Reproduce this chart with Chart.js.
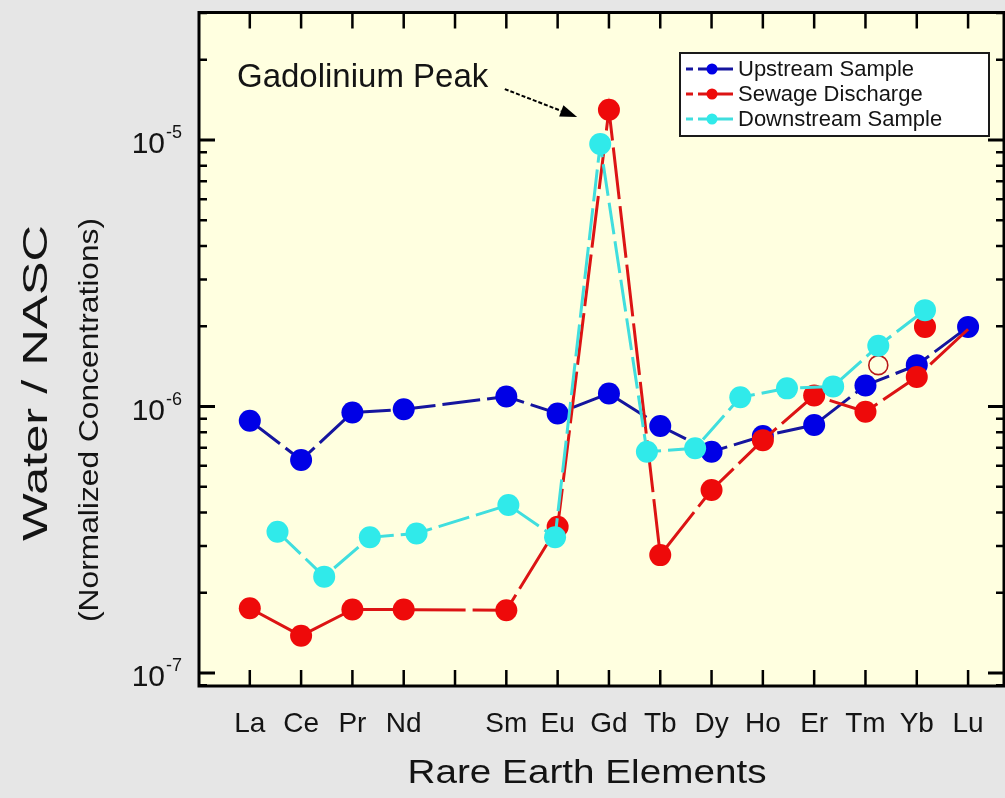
<!DOCTYPE html>
<html>
<head>
<meta charset="utf-8">
<title>Rare Earth Elements normalized to NASC</title>
<script src="https://cdn.jsdelivr.net/npm/chart.js@4.4.1/dist/chart.umd.min.js"></script>
<style>
  html, body { margin: 0; padding: 0; background: #e6e6e6; }
  #wrap { width: 1005px; height: 798px; position: relative; }
</style>
</head>
<body>
<div id="wrap"><canvas id="ree"></canvas></div>
<script>
// Rare earth elements in atomic order (Pm has no measurement)
const elements   = ['La','Ce','Pr','Nd','Pm','Sm','Eu','Gd','Tb','Dy','Ho','Er','Tm','Yb','Lu'];
const tickLabels = ['La','Ce','Pr','Nd','',  'Sm','Eu','Gd','Tb','Dy','Ho','Er','Tm','Yb','Lu'];

// Water / NASC ratios
const upstream = [8.85e-7, 6.3e-7, 9.5e-7, 9.76e-7, null, 1.09e-6, 9.42e-7, 1.12e-6,
                  8.45e-7, 6.77e-7, 7.75e-7, 8.52e-7, 1.2e-6, 1.43e-6, 1.99e-6];
const sewage   = [1.75e-7, 1.38e-7, 1.73e-7, 1.73e-7, null, 1.72e-7, 3.54e-7, 1.30e-5,
                  2.77e-7, 4.86e-7, 7.48e-7, 1.10e-6, 9.56e-7, 1.29e-6, 1.95e-6];

// Downstream sample is plotted on its own element positions
const downstreamPos = [0.54, 1.45, 2.34, 3.25, 5.04, 5.95, 6.83, 7.74, 8.68, 9.56, 10.47, 11.37, 12.25, 13.16];
const downstream    = [3.39e-7, 2.3e-7, 3.23e-7, 3.34e-7, 4.27e-7, 3.23e-7, 9.66e-6, 6.77e-7,
                       6.97e-7, 1.083e-6, 1.17e-6, 1.19e-6, 1.69e-6, 2.30e-6];

// Additional sewage readings (filled and open symbols)
const sewageFilledPos = [13.16];
const sewageFilled    = [1.99e-6];
const sewageOpenPos   = [12.25];
const sewageOpen      = [1.43e-6];

// Decade labels on the value axis
const yDecadeExp = [-7, -6, -5];

// Annotation for the Gd anomaly (data units)
const peakLabel = { text: 'Gadolinium Peak', x: -0.25, y: 1.71e-5 };
const peakArrow = { from: [4.97, 1.553e-5], to: [6.38, 1.22e-5] };

const byElement = vals => vals.map((v, i) => ({ x: i, y: v })).filter(p => p.y !== null);
const byPos = (pos, vals) => vals.map((v, i) => ({ x: pos[i], y: v }));

const COLORS = {
  up:   { line: '#15159e', point: '#0000e6' },
  sew:  { line: '#dc1414', point: '#ee0a0a' },
  down: { line: '#40dede', point: '#30eaea' }
};

const luIndex = elements.indexOf('Lu');

const datasets = [
  {
    label: 'Upstream Sample', data: byElement(upstream), order: 2,
    borderColor: COLORS.up.line, backgroundColor: COLORS.up.point,
    pointBackgroundColor: COLORS.up.point, pointBorderColor: COLORS.up.point,
    borderWidth: 3, borderDash: [38, 7], pointRadius: 11, pointBorderWidth: 0
  },
  {
    label: 'Sewage Discharge', data: byElement(sewage), order: 1,
    borderColor: COLORS.sew.line, backgroundColor: COLORS.sew.point,
    pointBackgroundColor: COLORS.sew.point, pointBorderColor: COLORS.sew.point,
    borderWidth: 3, borderDash: [52, 7], pointBorderWidth: 0,
    pointRadius: c => (c.raw && c.raw.x === luIndex) ? 0 : 11
  },
  {
    label: 'Downstream Sample', data: byPos(downstreamPos, downstream), order: 0,
    borderColor: COLORS.down.line, backgroundColor: COLORS.down.point,
    pointBackgroundColor: COLORS.down.point, pointBorderColor: COLORS.down.point,
    borderWidth: 3, borderDash: [32, 7], pointRadius: 11, pointBorderWidth: 0
  },
  {
    label: 'Sewage Discharge (repeat)', data: byPos(sewageFilledPos, sewageFilled), order: 1,
    showLine: false, pointBackgroundColor: COLORS.sew.point, pointBorderColor: COLORS.sew.point,
    pointRadius: 11, pointBorderWidth: 0
  },
  {
    label: 'Sewage Discharge (open)', data: byPos(sewageOpenPos, sewageOpen), order: 1,
    showLine: false, pointBackgroundColor: 'rgba(0,0,0,0)', pointBorderColor: '#b81818',
    pointRadius: 9.5, pointBorderWidth: 1.6
  }
];

const FONT = '"Liberation Sans", Arial, Helvetica, sans-serif';

// draws text, optionally stretched along its baseline to a given length
function drawText(ctx, text, x, y, size, opts = {}) {
  ctx.save();
  ctx.font = size + 'px ' + FONT;
  ctx.fillStyle = opts.color || '#141414';
  ctx.textBaseline = opts.baseline || 'alphabetic';
  ctx.textAlign = 'left';
  const w = ctx.measureText(text).width;
  const sx = opts.length ? opts.length / w : 1;
  ctx.translate(x, y);
  if (opts.rotate) ctx.rotate(opts.rotate);
  ctx.scale(sx, 1);
  const align = opts.align || 'left';
  const off = align === 'center' ? -w / 2 : align === 'right' ? -w : 0;
  ctx.fillText(text, off, 0);
  ctx.restore();
}

const framePlugin = {
  id: 'frame',
  beforeDraw(chart) {
    const { ctx, chartArea: a } = chart;
    ctx.save();
    ctx.fillStyle = '#e6e6e6';
    ctx.fillRect(0, 0, chart.width, chart.height);
    ctx.fillStyle = '#ffffe0';
    ctx.fillRect(a.left, a.top, a.right - a.left, a.bottom - a.top);
    ctx.restore();
  },
  afterDraw(chart) {
    const { ctx, chartArea: a } = chart;
    const xs = chart.scales.x, ys = chart.scales.y;
    ctx.save();
    ctx.strokeStyle = '#000';
    ctx.lineCap = 'butt';

    // category ticks, inward on bottom and top
    ctx.lineWidth = 2.5;
    tickLabels.forEach((lab, i) => {
      const px = xs.getPixelForValue(i);
      ctx.beginPath();
      ctx.moveTo(px, a.bottom); ctx.lineTo(px, a.bottom - 16);
      ctx.moveTo(px, a.top);    ctx.lineTo(px, a.top + 16);
      ctx.stroke();
      if (lab) drawText(ctx, lab, px, a.bottom + 46, 28, { align: 'center' });
    });

    // logarithmic ticks, inward on left and right
    for (let e = -8; e <= -4; e++) {
      for (let k = 1; k <= 9; k++) {
        const v = k * Math.pow(10, e);
        if (v < ys.min || v > ys.max) continue;
        const py = ys.getPixelForValue(v);
        const len = k === 1 ? 16 : 8;
        ctx.lineWidth = k === 1 ? 3 : 2.5;
        ctx.beginPath();
        ctx.moveTo(a.left, py);  ctx.lineTo(a.left + len, py);
        ctx.moveTo(a.right, py); ctx.lineTo(a.right - len, py);
        ctx.stroke();
      }
    }
    yDecadeExp.forEach(e => {
      const py = ys.getPixelForValue(Math.pow(10, e));
      drawText(ctx, '10', a.left - 34, py + 13, 30, { align: 'right' });
      drawText(ctx, '-' + Math.abs(e), a.left - 33, py - 2, 18, { align: 'left' });
    });

    // plot frame
    ctx.lineWidth = 3;
    ctx.strokeRect(a.left, a.top, a.right - a.left, a.bottom - a.top);

    // axis titles
    drawText(ctx, 'Rare Earth Elements', 587, a.bottom + 97, 34, { align: 'center', length: 359 });
    drawText(ctx, 'Water / NASC', 47, 383, 35, { align: 'center', rotate: -Math.PI / 2, length: 316 });
    drawText(ctx, '(Normalized Concentrations)', 98, 420, 28, { align: 'center', rotate: -Math.PI / 2, length: 404 });

    // Gd annotation with arrow
    drawText(ctx, peakLabel.text, xs.getPixelForValue(peakLabel.x), ys.getPixelForValue(peakLabel.y),
             33, { baseline: 'middle' });
    const x0 = xs.getPixelForValue(peakArrow.from[0]), y0 = ys.getPixelForValue(peakArrow.from[1]);
    const x1 = xs.getPixelForValue(peakArrow.to[0]),   y1 = ys.getPixelForValue(peakArrow.to[1]);
    const ang = Math.atan2(y1 - y0, x1 - x0);
    const headLen = 17, headW = 6;
    ctx.lineWidth = 2;
    ctx.setLineDash([4, 2]);
    ctx.beginPath();
    ctx.moveTo(x0, y0);
    ctx.lineTo(x1 - headLen * Math.cos(ang), y1 - headLen * Math.sin(ang));
    ctx.stroke();
    ctx.setLineDash([]);
    ctx.fillStyle = '#000';
    ctx.beginPath();
    ctx.moveTo(x1, y1);
    ctx.lineTo(x1 - headLen * Math.cos(ang) + headW * Math.sin(ang), y1 - headLen * Math.sin(ang) - headW * Math.cos(ang));
    ctx.lineTo(x1 - headLen * Math.cos(ang) - headW * Math.sin(ang), y1 - headLen * Math.sin(ang) + headW * Math.cos(ang));
    ctx.closePath();
    ctx.fill();

    // legend box
    const L = { x: 680, y: 53, w: 309, h: 83 };
    ctx.fillStyle = '#ffffff';
    ctx.fillRect(L.x, L.y, L.w, L.h);
    ctx.lineWidth = 2;
    ctx.strokeStyle = '#1a1a1a';
    ctx.strokeRect(L.x, L.y, L.w, L.h);
    chart.data.datasets.slice(0, 3).forEach((ds, i) => {
      const cy = L.y + 16 + i * 25;
      const sx = L.x + 6;
      ctx.strokeStyle = ds.borderColor;
      ctx.lineWidth = 3;
      ctx.beginPath();
      ctx.moveTo(sx, cy); ctx.lineTo(sx + 7, cy);
      ctx.moveTo(sx + 12, cy); ctx.lineTo(sx + 47, cy);
      ctx.stroke();
      ctx.fillStyle = ds.pointBackgroundColor;
      ctx.beginPath();
      ctx.arc(sx + 26, cy, 5.5, 0, Math.PI * 2);
      ctx.fill();
      drawText(ctx, ds.label, L.x + 58, cy + 1, 22, { baseline: 'middle' });
    });
    ctx.restore();
  }
};

new Chart(document.getElementById('ree'), {
  type: 'line',
  data: { datasets },
  options: {
    responsive: true,
    maintainAspectRatio: false,
    animation: false,
    spanGaps: true,
    layout: { autoPadding: false, padding: { left: 199, top: 12.5, right: 1, bottom: 112 } },
    elements: { line: { tension: 0 } },
    plugins: { legend: { display: false }, tooltip: { enabled: false } },
    scales: {
      x: { type: 'linear', min: -0.99, max: 14.7, display: false },
      y: { type: 'logarithmic', min: 8.94e-8, max: 3.01e-5, display: false }
    }
  },
  plugins: [framePlugin]
});
</script>
</body>
</html>
